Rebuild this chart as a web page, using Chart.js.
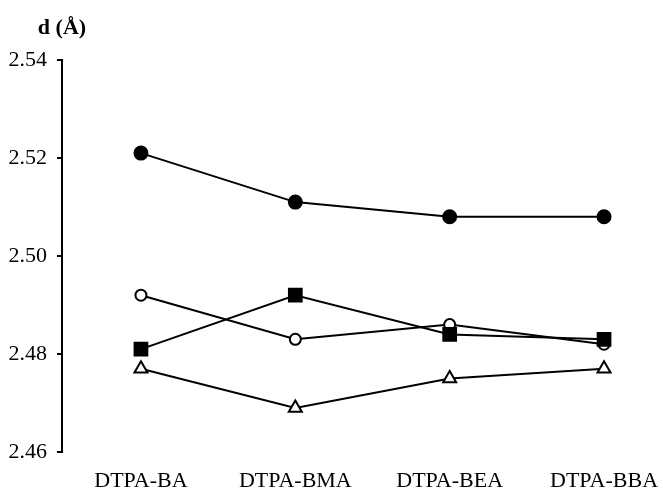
<!DOCTYPE html>
<html>
<head>
<meta charset="utf-8">
<script src="https://cdn.jsdelivr.net/npm/chart.js@4/dist/chart.umd.min.js"></script>
<style>
  html, body { margin: 0; padding: 0; background: #fff; overflow: hidden; }
  #distChart { display: block; }
</style>
</head>
<body>
<canvas id="distChart" width="663" height="493"></canvas>
<script>
// categorias (ligantes) e distancias d (Å)
const categorias = ['DTPA-BA', 'DTPA-BMA', 'DTPA-BEA', 'DTPA-BBA'];
const circuloCheio = [2.521, 2.511, 2.508, 2.508];
const circuloVazio = [2.492, 2.483, 2.486, 2.482];
const quadrado = [2.481, 2.492, 2.484, 2.483];
const triangulo = [2.477, 2.469, 2.475, 2.477];
const yTicks = [2.46, 2.48, 2.50, 2.52, 2.54];

const fonte = '"Liberation Serif", "Times New Roman", serif';

function serie(valores, estilo, raio, preenchido) {
  return {
    data: valores.map((y, i) => ({ x: i, y: y })),
    borderColor: '#000',
    borderWidth: 2,
    pointStyle: estilo,
    pointRadius: raio,
    pointHoverRadius: raio,
    pointBackgroundColor: preenchido ? '#000' : '#fff',
    pointBorderColor: '#000',
    pointBorderWidth: 2,
    tension: 0,
    fill: false
  };
}

// titulo do eixo y no topo
const tituloEixo = {
  id: 'tituloEixo',
  afterDraw(chart) {
    const ctx = chart.ctx;
    ctx.save();
    ctx.fillStyle = '#000';
    ctx.font = 'bold 22px ' + fonte;
    ctx.textAlign = 'center';
    ctx.textBaseline = 'middle';
    ctx.fillText('d (Å)', chart.chartArea.left, 28);
    ctx.restore();
  }
};

const ctx = document.getElementById('distChart').getContext('2d');
new Chart(ctx, {
  type: 'line',
  data: {
    datasets: [
      serie(circuloCheio, 'circle', 6.5, true),
      serie(quadrado, 'rect', 9, true),
      serie(circuloVazio, 'circle', 5.5, false),
      serie(triangulo, 'triangle', 7.5, false)
    ]
  },
  options: {
    responsive: false,
    animation: false,
    devicePixelRatio: 1,
    // autoPadding somava o raio dos pontos na margem direita
    layout: { autoPadding: false, padding: { top: 60, right: 0, bottom: 0, left: 0 } },
    plugins: {
      legend: { display: false },
      tooltip: { enabled: false }
    },
    scales: {
      x: {
        type: 'linear',
        min: -0.5115,
        max: 3.382,
        afterBuildTicks: (scale) => {
          scale.ticks = categorias.map((c, i) => ({ value: i }));
        },
        afterFit: (scale) => {
          scale.height = 41;
          scale.paddingLeft = 0;
          scale.paddingRight = 0;
        },
        grid: { display: false, drawTicks: true, tickLength: 16 },
        border: { display: false },
        ticks: {
          color: '#000',
          padding: 0,
          maxRotation: 0,
          autoSkip: false,
          font: { family: fonte, size: 22 },
          callback: (v) => categorias[v]
        }
      },
      y: {
        min: 2.46,
        max: 2.54,
        afterBuildTicks: (scale) => {
          scale.ticks = yTicks.map(v => ({ value: v }));
        },
        afterFit: (scale) => { scale.width = 62; },
        grid: {
          drawOnChartArea: false,
          drawTicks: true,
          tickLength: 5,
          color: '#000',
          lineWidth: 2
        },
        border: { display: true, color: '#000', width: 2 },
        ticks: {
          color: '#000',
          padding: 10,
          font: { family: fonte, size: 22 },
          callback: (v) => v.toFixed(2)
        }
      }
    }
  },
  plugins: [tituloEixo]
});
</script>
</body>
</html>
